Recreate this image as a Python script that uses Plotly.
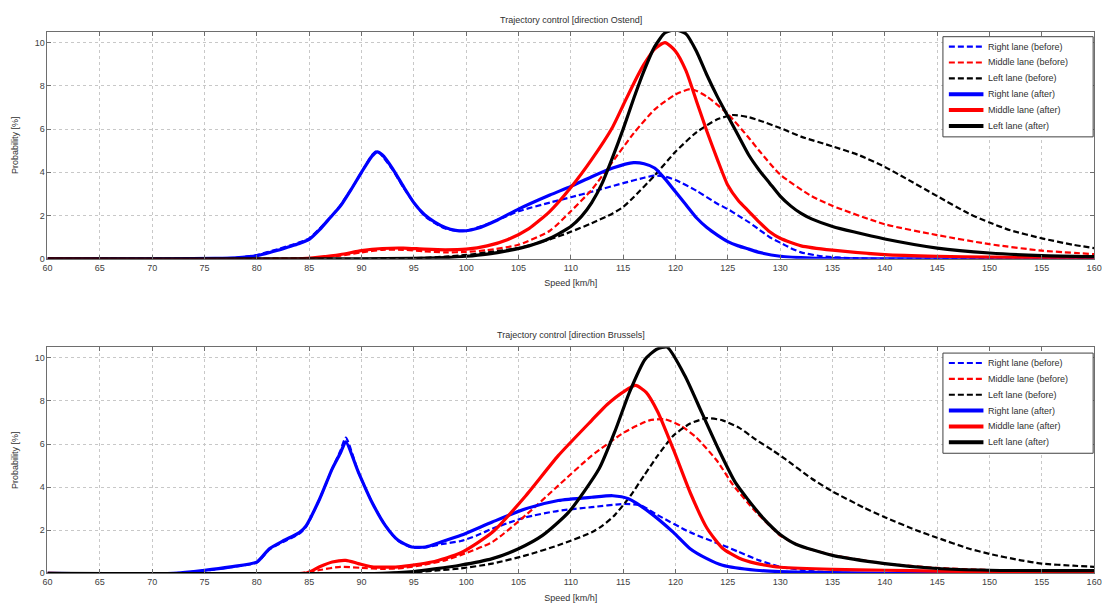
import plotly.graph_objects as go

# ---------------- Data: Ostend (top panel) ----------------
ost_right_before_x = [60, 74, 78, 80, 82, 84, 85, 86, 87, 88, 89, 90, 91, 91.5, 92, 93, 94, 95, 96, 97, 98, 99, 100, 102, 105, 108, 110, 112, 115, 117, 118, 119, 120, 122, 124, 125, 126, 127, 128, 129, 130, 131, 132, 134, 137, 140, 160]
ost_right_before_y = [0, 0, 0.05, 0.18, 0.45, 0.75, 0.95, 1.4, 1.9, 2.5, 3.2, 4.0, 4.8, 5.0, 4.75, 4.1, 3.3, 2.6, 2.0, 1.65, 1.4, 1.3, 1.3, 1.6, 2.2, 2.6, 2.85, 3.1, 3.5, 3.75, 3.85, 3.8, 3.65, 3.15, 2.55, 2.3, 2.0, 1.7, 1.35, 1.0, 0.75, 0.5, 0.3, 0.12, 0.03, 0, 0]

ost_middle_before_x = [60, 80, 86, 88, 90, 92, 94, 96, 98, 100, 102, 105, 108, 110, 112, 114, 116, 118, 120, 121.5, 123, 125, 127, 128, 130, 133, 135, 140, 145, 150, 155, 160]
ost_middle_before_y = [0, 0, 0.05, 0.15, 0.3, 0.42, 0.42, 0.35, 0.3, 0.32, 0.4, 0.65, 1.3, 2.2, 3.2, 4.5, 5.8, 6.9, 7.6, 7.85, 7.5, 6.7, 5.6, 5.0, 3.9, 2.9, 2.45, 1.6, 1.1, 0.68, 0.38, 0.22]

ost_left_before_x = [60, 90, 95, 98, 100, 102, 105, 108, 110, 112, 114, 115, 116, 118, 120, 122, 124, 125.5, 127, 128, 130, 132, 135, 137.5, 140, 142, 145, 148, 150, 152, 155, 158, 160]
ost_left_before_y = [0, 0, 0.03, 0.1, 0.18, 0.3, 0.5, 0.9, 1.25, 1.65, 2.1, 2.4, 2.85, 3.85, 4.95, 5.85, 6.45, 6.65, 6.55, 6.4, 6.05, 5.65, 5.2, 4.8, 4.25, 3.72, 2.9, 2.1, 1.68, 1.32, 0.95, 0.65, 0.5]

ost_right_after_x = [60, 72, 76, 78, 80, 82, 83, 84, 85, 86, 87, 88, 89, 90, 91, 91.5, 92, 93, 94, 95, 96, 97, 98, 99, 100, 101, 103, 105, 108, 110, 112, 114, 116, 117, 118, 119, 120, 121, 122, 123, 124, 125, 126, 127, 128, 130, 133, 140, 160]
ost_right_after_y = [0, 0, 0.02, 0.05, 0.15, 0.4, 0.55, 0.7, 0.9, 1.35, 1.9, 2.45, 3.2, 4.0, 4.75, 4.95, 4.8, 4.15, 3.35, 2.6, 2.05, 1.7, 1.45, 1.32, 1.3, 1.4, 1.8, 2.3, 2.95, 3.35, 3.8, 4.2, 4.45, 4.4, 4.2, 3.7, 3.1, 2.5, 1.9, 1.45, 1.1, 0.8, 0.6, 0.45, 0.3, 0.12, 0.04, 0, 0]

ost_middle_after_x = [60, 84, 86, 88, 90, 92, 94, 96, 98, 100, 102, 104, 106, 108, 110, 112, 114, 115, 116, 117, 118, 119, 120, 121, 122, 123, 124, 125, 126, 127, 128, 129, 130, 132, 135, 140, 145, 150, 160]
ost_middle_after_y = [0, 0, 0.08, 0.2, 0.38, 0.48, 0.5, 0.45, 0.42, 0.45, 0.6, 0.9, 1.4, 2.2, 3.3, 4.6, 6.1, 7.1, 8.1, 9.0, 9.7, 10.0, 9.6, 8.7, 7.3, 5.9, 4.6, 3.4, 2.7, 2.2, 1.7, 1.25, 0.95, 0.6, 0.4, 0.2, 0.12, 0.08, 0.03]

ost_left_after_x = [60, 90, 95, 98, 100, 102, 104, 106, 108, 110, 111, 112, 113, 114, 115, 116, 117, 118, 119, 120, 121, 122, 123, 124, 125, 126, 127, 128, 129, 130, 131, 132, 133, 135, 137, 140, 145, 150, 155, 160]
ost_left_after_y = [0, 0, 0.02, 0.06, 0.12, 0.22, 0.38, 0.6, 0.95, 1.5, 1.95, 2.6, 3.5, 4.7, 6.0, 7.4, 8.7, 9.8, 10.45, 10.6, 10.4, 9.6, 8.5, 7.5, 6.6, 5.7, 4.8, 4.1, 3.5, 2.9, 2.45, 2.1, 1.85, 1.5, 1.25, 0.92, 0.5, 0.27, 0.15, 0.1]

# ---------------- Data: Brussels (bottom panel) ----------------
bru_right_before_x = [60, 72, 75, 77.5, 80, 81.2, 82.5, 84.1, 84.7, 86, 87.2, 88, 88.5, 89.7, 91, 92.3, 93.5, 94.8, 96.1, 97.6, 99.5, 101, 102.5, 104.1, 105.7, 108.8, 112, 115.1, 116.7, 118.3, 121.4, 124.5, 126, 128, 130, 133, 136, 160]
bru_right_before_y = [0, 0, 0.12, 0.28, 0.5, 1.1, 1.45, 1.85, 2.15, 3.45, 4.85, 5.7, 6.3, 4.7, 3.3, 2.2, 1.5, 1.2, 1.2, 1.35, 1.5, 1.75, 2.07, 2.35, 2.6, 2.9, 3.07, 3.22, 3.15, 2.7, 1.9, 1.3, 1.0, 0.6, 0.3, 0.1, 0.02, 0]

bru_middle_before_x = [60, 84, 86, 88, 90, 92, 94, 96, 98, 99.4, 102.5, 105.7, 108.8, 112, 115.1, 117.5, 119, 120.5, 122, 124, 125.5, 127.7, 129.3, 130, 132, 135, 140, 145, 150, 160]
bru_middle_before_y = [0, 0, 0.15, 0.3, 0.25, 0.2, 0.25, 0.4, 0.6, 0.83, 1.45, 2.7, 4.07, 5.46, 6.54, 7.1, 7.15, 6.85, 6.3, 5.2, 4.1, 2.84, 2.07, 1.75, 1.25, 0.85, 0.45, 0.25, 0.15, 0.08]

bru_left_before_x = [60, 92, 95, 97, 99.4, 102.5, 105.7, 108.8, 112, 113, 114.2, 115.7, 117, 118.3, 119.8, 121.4, 123, 124.5, 126.1, 127.7, 129.3, 130.5, 133, 135, 138, 140, 143, 145, 148, 150, 153, 155, 158, 160]
bru_left_before_y = [0, 0, 0.05, 0.12, 0.22, 0.45, 0.83, 1.3, 1.9, 2.2, 2.7, 3.6, 4.54, 5.46, 6.39, 6.95, 7.2, 7.1, 6.75, 6.2, 5.7, 5.3, 4.4, 3.8, 3.05, 2.6, 2.0, 1.65, 1.15, 0.9, 0.6, 0.45, 0.35, 0.3]

bru_right_after_x = [60, 72, 75, 77.5, 80, 81.2, 82.5, 84.1, 84.7, 86, 87.2, 88, 88.5, 89.7, 91, 92.3, 93.5, 94.8, 96.1, 97.6, 99.5, 102.5, 105.7, 108.8, 112, 114, 115.5, 117.5, 119.8, 121.4, 123, 124.5, 127.7, 130, 133, 140, 160]
bru_right_after_y = [0, 0, 0.14, 0.3, 0.52, 1.14, 1.5, 1.9, 2.2, 3.45, 4.85, 5.6, 6.1, 4.7, 3.3, 2.2, 1.53, 1.22, 1.22, 1.45, 1.76, 2.38, 3.0, 3.38, 3.53, 3.6, 3.46, 2.84, 1.9, 1.14, 0.68, 0.37, 0.14, 0.08, 0.04, 0, 0]

bru_middle_after_x = [60, 84.7, 86, 87.2, 88.5, 89.7, 91, 93.5, 96.7, 99.5, 102.5, 105.7, 108.8, 112, 113.5, 115.1, 116.2, 117.2, 118.3, 119.8, 121.4, 123, 124.5, 126.1, 127.7, 129.3, 130, 135, 140, 145, 150, 160]
bru_middle_after_y = [0, 0, 0.3, 0.52, 0.6, 0.45, 0.3, 0.3, 0.52, 0.95, 1.9, 3.6, 5.46, 7.1, 7.85, 8.45, 8.72, 8.4, 7.5, 5.75, 3.75, 2.1, 1.16, 0.7, 0.46, 0.32, 0.28, 0.18, 0.14, 0.1, 0.08, 0.05]

bru_left_after_x = [60, 92, 95, 97, 99.4, 102.5, 105, 107.3, 109.8, 112.7, 114.3, 115.6, 117.1, 118.2, 119.2, 120.9, 122.5, 124.1, 125.7, 126.8, 127.7, 128.4, 129.3, 130, 131.5, 135, 140, 145, 150, 160]
bru_left_after_y = [0, 0, 0.08, 0.2, 0.37, 0.68, 1.14, 1.76, 2.84, 4.85, 6.7, 8.4, 9.94, 10.4, 10.5, 9.17, 7.47, 5.77, 4.23, 3.5, 2.95, 2.55, 2.1, 1.8, 1.35, 0.83, 0.45, 0.22, 0.14, 0.12]

labels = ["Right lane (before)", "Middle lane (before)", "Left lane (before)",
          "Right lane (after)", "Middle lane (after)", "Left lane (after)"]
colors = ["#0000ff", "#ff0000", "#000000", "#0000ff", "#ff0000", "#000000"]

panels = [
    ("Trajectory control [direction Ostend]",
     [(ost_right_before_x, ost_right_before_y), (ost_middle_before_x, ost_middle_before_y),
      (ost_left_before_x, ost_left_before_y), (ost_right_after_x, ost_right_after_y),
      (ost_middle_after_x, ost_middle_after_y), (ost_left_after_x, ost_left_after_y)]),
    ("Trajectory control [direction Brussels]",
     [(bru_right_before_x, bru_right_before_y), (bru_middle_before_x, bru_middle_before_y),
      (bru_left_before_x, bru_left_before_y), (bru_right_after_x, bru_right_after_y),
      (bru_middle_after_x, bru_middle_after_y), (bru_left_after_x, bru_left_after_y)]),
]

W, H = 1114, 610
FONT = "Liberation Sans, Arial, sans-serif"
x0, x1 = 43 / W, 1102 / W
ydomains = [(1 - 261 / H, 1 - 32 / H), (1 - 578 / H, 1 - 350 / H)]
DASH = "6px,3px"

fig = go.Figure()
for p, (title, series) in enumerate(panels):
    xa = "x" if p == 0 else "x2"
    ya = "y" if p == 0 else "y2"
    for i, (xs, ys) in enumerate(series):
        dashed = i < 3
        fig.add_trace(go.Scatter(
            x=xs, y=ys, mode="lines", name=labels[i], xaxis=xa, yaxis=ya,
            line=dict(color=colors[i], width=2.2 if dashed else 3.2,
                      dash=DASH if dashed else "solid",
                      shape="spline", smoothing=0.6),
            showlegend=False,
        ))

axis_common = dict(
    showline=True, mirror="ticks", linecolor="#6e6e6e", linewidth=1,
    ticks="inside", ticklen=4, tickcolor="#6e6e6e",
    showgrid=True, gridcolor="#c8c8c8", griddash="dot", gridwidth=1,
    zeroline=False, tickfont=dict(family=FONT, size=9, color="#404040"),
)

for p in range(2):
    sx = "" if p == 0 else "2"
    fig.update_layout(**{
        f"xaxis{sx}": dict(axis_common, range=[60, 160], dtick=5, tick0=60,
                           domain=[x0, x1], anchor=f"y{sx}",
                           title=dict(text="Speed [km/h]", standoff=8,
                                      font=dict(family=FONT, size=9, color="#303030"))),
        f"yaxis{sx}": dict(axis_common, range=[0, 10.5], tickvals=[0, 2, 4, 6, 8, 10],
                           domain=list(ydomains[p]), anchor=f"x{sx}",
                           title=dict(text="Probability [%]", standoff=14,
                                      font=dict(family=FONT, size=9, color="#303030"))),
    })

# ---- legend boxes (MATLAB-style, compact) ----
shapes = []
annotations = []
legend_tops = [37, 356]
LX0, LX1 = 949, 1101
step = 16
for p in range(2):
    top = legend_tops[p]
    shapes.append(dict(type="rect", xref="paper", yref="paper",
                       x0=LX0 / W, x1=LX1 / W, y0=1 - (top + 6 * step + 5) / H, y1=1 - top / H,
                       line=dict(color="#404040", width=1), fillcolor="white", layer="above"))
    for i in range(6):
        yc = top + 10 + i * step
        dashed = i < 3
        shapes.append(dict(type="line", xref="paper", yref="paper",
                           x0=955 / W, x1=990 / W, y0=1 - yc / H, y1=1 - yc / H,
                           line=dict(color=colors[i], width=2.2 if dashed else 4,
                                     dash=DASH if dashed else "solid"),
                           layer="above"))
        annotations.append(dict(text=labels[i], xref="paper", yref="paper",
                                x=993 / W, y=1 - yc / H, xanchor="left", yanchor="middle",
                                showarrow=False,
                                font=dict(family=FONT, size=9, color="#303030")))

for p, (title, _) in enumerate(panels):
    annotations.append(dict(
        text=title, xref="paper", yref="paper", x=(x0 + x1) / 2,
        y=ydomains[p][1], yshift=5, xanchor="center", yanchor="bottom",
        showarrow=False, font=dict(family=FONT, size=9, color="#303030")))

fig.update_layout(
    shapes=shapes, annotations=annotations,
    width=W, height=H, margin=dict(l=0, r=0, t=0, b=0),
    paper_bgcolor="white", plot_bgcolor="white", showlegend=False,
)

fig.write_html("out.html")
